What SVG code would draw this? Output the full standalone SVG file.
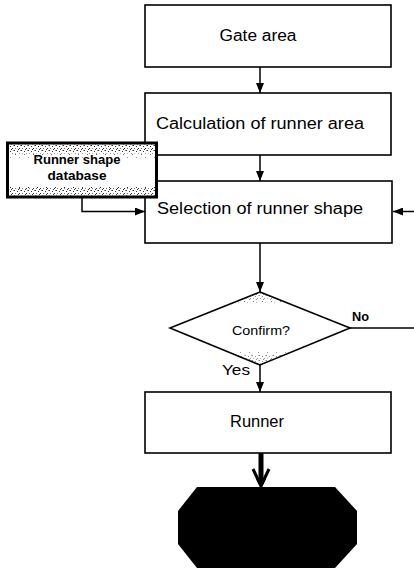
<svg xmlns="http://www.w3.org/2000/svg" width="414" height="570" viewBox="0 0 414 570">
  <style>
    .box { fill: #fff; stroke: #000; stroke-width: 1.6; }
    .line { fill: none; stroke: #000; stroke-width: 1.5; }
    .txt { font-family: "Liberation Sans", Arial, sans-serif; fill: #000; }
    .main { font-size: 16px; text-anchor: middle; }
    .small { font-size: 13px; }
    .bold { font-weight: bold; }
  </style>
  <defs>
    <marker id="arr" viewBox="0 0 10 8" refX="10" refY="4" markerWidth="10" markerHeight="8" markerUnits="userSpaceOnUse" orient="auto">
      <path d="M0,0 L10,4 L0,8 z" fill="#000"/>
    </marker>
    <!-- speckled grain used on the database box and decision shape -->
    <pattern id="grain" width="7" height="5" patternUnits="userSpaceOnUse">
      <rect x="0" y="0" width="1" height="1" fill="#000"/>
      <rect x="3" y="1" width="1" height="1" fill="#000"/>
      <rect x="5" y="3" width="1" height="1" fill="#000"/>
      <rect x="1" y="3" width="1" height="1" fill="#555"/>
      <rect x="6" y="0" width="1" height="1" fill="#777"/>
      <rect x="4" y="4" width="1" height="1" fill="#000"/>
    </pattern>
    <pattern id="grainLight" width="9" height="6" patternUnits="userSpaceOnUse">
      <rect x="1" y="1" width="1" height="1" fill="#333"/>
      <rect x="6" y="4" width="1" height="1" fill="#666"/>
      <rect x="4" y="2" width="1" height="1" fill="#999"/>
    </pattern>
    <clipPath id="diamondClip">
      <polygon points="260,292 350,328 260,365 170,328"/>
    </clipPath>
  </defs>

  <!-- connectors -->
  <g id="connectors">
    <line class="line" x1="260" y1="67" x2="260" y2="93" marker-end="url(#arr)"/>
    <line class="line" x1="260" y1="155" x2="260" y2="181" marker-end="url(#arr)"/>
    <polyline class="line" points="82,197 82,211.5 145,211.5" marker-end="url(#arr)"/>
    <line class="line" x1="414" y1="211.5" x2="393" y2="211.5" marker-end="url(#arr)"/>
    <line class="line" x1="260" y1="243" x2="260" y2="292" marker-end="url(#arr)"/>
    <line class="line" x1="260" y1="365" x2="260" y2="392" marker-end="url(#arr)"/>
    <line class="line" x1="350" y1="328" x2="414" y2="328"/>
    <!-- heavy arrow into the terminal -->
    <line x1="261" y1="453" x2="261" y2="484" stroke="#000" stroke-width="5"/>
    <polyline points="253,469 261,486 269,469" fill="none" stroke="#000" stroke-width="3" stroke-linejoin="miter"/>
    <path d="M256,479 L261,489 L266,479 z" fill="#000"/>
  </g>

  <g id="gate-area">
    <rect class="box" x="145" y="5" width="246" height="62"/>
    <text class="txt main" x="258" y="41" textLength="77" lengthAdjust="spacingAndGlyphs">Gate area</text>
  </g>

  <g id="calc-runner-area">
    <rect class="box" x="145" y="93" width="246" height="62"/>
    <text class="txt main" x="260" y="129" textLength="208" lengthAdjust="spacingAndGlyphs">Calculation of runner area</text>
  </g>

  <g id="select-runner-shape">
    <rect class="box" x="145" y="181" width="247" height="62"/>
    <text class="txt main" x="260" y="214" textLength="206" lengthAdjust="spacingAndGlyphs">Selection of runner shape</text>
  </g>

  <g id="runner-shape-db">
    <rect x="7.5" y="143" width="149" height="54" fill="#fff" stroke="#000" stroke-width="3"/>
    <rect x="9" y="144.5" width="146" height="9" fill="url(#grain)" opacity="0.8"/>
    <rect x="9" y="153.5" width="146" height="4" fill="url(#grainLight)"/>
    <rect x="9" y="185" width="146" height="3" fill="url(#grainLight)"/>
    <rect x="9" y="188" width="146" height="7.5" fill="url(#grain)" opacity="0.8"/>
    <text class="txt bold" x="77" y="164" font-size="12.5" text-anchor="middle" textLength="87" lengthAdjust="spacingAndGlyphs">Runner shape</text>
    <text class="txt bold" x="77" y="180" font-size="12.5" text-anchor="middle" textLength="59" lengthAdjust="spacingAndGlyphs">database</text>
  </g>

  <g id="confirm">
    <polygon class="box" points="260,292 350,328 260,365 170,328" stroke-width="1.4"/>
    <g clip-path="url(#diamondClip)">
      <rect x="232" y="292" width="56" height="8" fill="url(#grain)" opacity="0.45"/>
      <rect x="225" y="300" width="70" height="4" fill="url(#grainLight)" opacity="0.7"/>
      <rect x="225" y="351" width="70" height="4" fill="url(#grainLight)" opacity="0.7"/>
      <rect x="232" y="355" width="56" height="10" fill="url(#grain)" opacity="0.45"/>
    </g>
    <text class="txt small" x="261" y="335" text-anchor="middle" textLength="58" lengthAdjust="spacingAndGlyphs">Confirm?</text>
    <text class="txt bold" x="352" y="321" font-size="12" textLength="17" lengthAdjust="spacingAndGlyphs">No</text>
    <text class="txt" x="222" y="375" font-size="15" textLength="28" lengthAdjust="spacingAndGlyphs">Yes</text>
  </g>

  <g id="runner">
    <rect class="box" x="145" y="392" width="246" height="61"/>
    <text class="txt main" x="257" y="427" textLength="54" lengthAdjust="spacingAndGlyphs">Runner</text>
  </g>

  <g id="terminal">
    <polygon points="197,487 335,487 357,511 357,544 335,568 197,568 178,544 178,511" fill="#000"/>
  </g>
</svg>
